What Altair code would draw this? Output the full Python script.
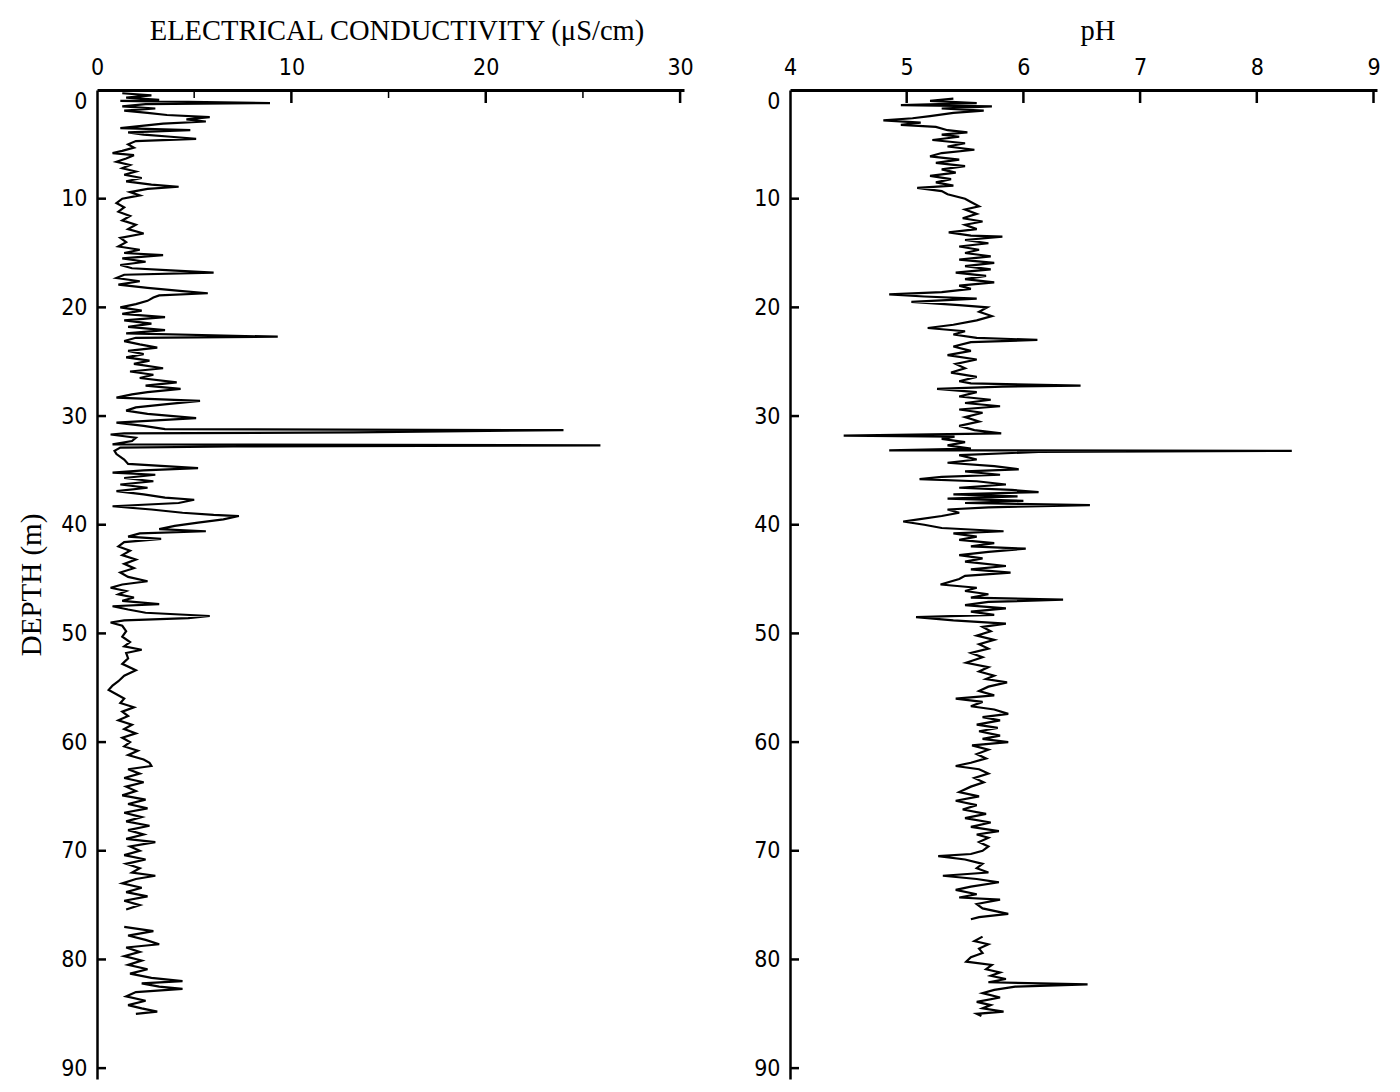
import altair as alt
import pandas as pd

# ---------------- data ----------------
# Electrical conductivity profile (depth in m, value in uS/cm); None marks a gap in the record
ec_depth = [0.3, 0.5, 0.7, 0.9, 1.0, 1.2, 1.3, 1.5, 1.7, 1.9, 2.1, 2.3, 2.5, 2.7, 2.9, 3.1, 3.3, 3.5, 3.7, 3.9,
            4.1, 4.3, 4.5, 4.7, 5.0, 5.3, 5.6, 5.8, 6.0, 6.3, 6.6, 6.9, 7.2, 7.5, 7.8, 8.1, 8.4, 8.7, 8.9, 9.1,
            9.4, 9.7, 10.0, 10.4, 10.8, 11.2, 11.6, 12.0, 12.4, 12.8, 13.2, 13.6, 14.0, 14.4, 14.7, 15.0, 15.2, 15.5, 15.8, 16.1,
            16.4, 16.6, 16.8, 17.0, 17.3, 17.6, 17.9, 18.2, 18.5, 18.7, 18.9, 19.1, 19.4, 19.7, 20.0, 20.3, 20.6, 20.9, 21.2, 21.5,
            21.8, 22.1, 22.4, 22.7, 22.8, 23.1, 23.4, 23.7, 24.0, 24.3, 24.6, 24.9, 25.2, 25.6, 25.9, 26.2, 26.5, 26.9, 27.2, 27.5,
            27.8, 28.0, 28.3, 28.6, 28.9, 29.2, 29.5, 29.8, 30.2, 30.6, 30.9, 31.2, 31.3, 31.5, 31.6, 31.7, 32.0, 32.3, 32.6, 32.7,
            32.8, 32.9, 33.2, 33.5, 34.0, 34.4, 34.8, 35.0, 35.2, 35.4, 35.7, 36.0, 36.3, 36.6, 36.9, 37.2, 37.5, 37.7, 38.0, 38.3,
            38.6, 38.9, 39.1, 39.2, 39.5, 39.8, 40.1, 40.4, 40.6, 40.8, 41.1, 41.3, 41.6, 42.0, 42.4, 42.8, 43.2, 43.6, 44.0, 44.4,
            44.8, 45.2, 45.5, 45.8, 46.1, 46.4, 46.7, 47.0, 47.3, 47.5, 47.8, 48.1, 48.4, 48.6, 48.8, 49.0, 49.3, 49.8, 50.3, 50.8,
            51.2, 51.5, 51.8, 52.3, 52.8, 53.4, 53.9, 54.4, 54.8, 55.2, 55.6, 56.0, 56.4, 56.8, 57.2, 57.6, 58.0, 58.4, 58.8, 59.2,
            59.6, 60.0, 60.4, 60.8, 61.2, 61.6, 61.9, 62.2, 62.5, 62.9, 63.3, 63.7, 64.1, 64.5, 64.9, 65.3, 65.7, 66.1, 66.5, 66.9,
            67.3, 67.7, 68.1, 68.5, 68.9, 69.2, 69.6, 70.0, 70.4, 70.8, 71.2, 71.6, 72.0, 72.3, 72.6, 73.0, 73.4, 73.8, 74.2, 74.6,
            75.0, 75.4, 76.0, 77.0, 77.4, 77.8, 78.2, 78.6, 78.9, 79.3, 79.7, 80.1, 80.5, 80.9, 81.3, 81.7, 82.0, 82.2, 82.5, 82.7,
            83.0, 83.4, 83.8, 84.2, 84.5, 84.8, 85.0]
ec_value = [1.3, 2.8, 1.5, 3.2, 1.2, 8.9, 2.5, 1.3, 3.0, 1.4, 2.6, 3.6, 5.8, 4.6, 5.6, 3.4, 2.3, 1.2, 4.8, 1.6,
            2.4, 3.8, 5.1, 2.0, 1.6, 1.9, 1.3, 0.8, 1.9, 1.5, 1.0, 1.7, 1.3, 2.0, 1.4, 2.3, 1.5, 2.8, 4.2, 2.6,
            1.7, 2.2, 1.3, 1.0, 1.4, 1.1, 1.7, 1.3, 2.0, 1.6, 2.4, 1.2, 1.5, 1.1, 2.2, 1.4, 3.4, 1.3, 2.5, 1.2,
            1.8, 3.8, 6.0, 1.4, 1.0, 2.2, 1.1, 2.6, 4.4, 5.7, 3.2, 2.9, 2.6, 2.0, 1.2, 2.3, 1.3, 3.5, 1.4, 2.8,
            1.6, 3.5, 1.5, 9.3, 2.0, 1.4, 2.2, 3.1, 1.6, 2.4, 1.5, 2.7, 1.9, 3.4, 1.7, 2.9, 2.2, 4.1, 2.5, 4.3,
            2.6, 1.8, 1.0, 5.3, 3.6, 2.0, 1.5, 2.6, 5.1, 1.0, 2.4, 3.5, 24.0, 13.2, 1.4, 0.7, 2.0, 1.8, 0.8, 25.9,
            7.0, 1.2, 0.9, 1.0, 1.4, 1.6, 5.2, 2.4, 0.8, 3.0, 1.4, 2.9, 1.2, 2.6, 1.0, 2.4, 3.5, 5.0, 4.2, 0.8,
            2.8, 4.4, 6.0, 7.3, 6.5, 5.2, 4.0, 3.2, 5.6, 2.2, 1.6, 3.3, 1.4, 1.1, 1.7, 1.3, 2.0, 1.4, 1.9, 1.2,
            1.6, 2.6, 1.3, 0.7, 1.5, 1.1, 1.9, 1.3, 3.2, 0.8, 1.6, 2.5, 5.8, 4.7, 1.4, 0.7, 1.3, 1.5, 1.3, 1.7,
            1.4, 2.3, 1.5, 1.6, 1.3, 2.0, 1.4, 1.1, 0.8, 0.6, 1.0, 1.4, 1.2, 1.9, 1.3, 1.6, 1.1, 1.8, 1.4, 2.0,
            1.3, 1.7, 1.4, 2.1, 1.6, 2.4, 2.7, 2.8, 1.6, 2.2, 1.4, 2.4, 1.5, 2.0, 1.3, 2.5, 1.6, 2.6, 1.4, 2.3,
            1.5, 2.7, 1.6, 2.4, 1.5, 3.0, 1.7, 2.2, 1.4, 2.5, 1.5, 2.2, 1.8, 3.0, 2.0, 1.3, 2.3, 1.5, 2.6, 1.4,
            2.2, 1.5, None, 1.4, 2.9, 1.6, 2.5, 3.2, 1.5, 2.2, 1.4, 2.3, 1.6, 2.6, 1.7, 2.8, 4.4, 2.3, 3.2, 4.4,
            2.0, 1.5, 2.5, 1.6, 2.3, 3.1, 2.0]

# pH profile (depth in m, pH); None marks a gap in the record
ph_depth = [0.8, 1.0, 1.2, 1.4, 1.5, 1.7, 1.9, 2.1, 2.4, 2.6, 2.8, 3.0, 3.2, 3.4, 3.7, 3.9, 4.1, 4.3, 4.6, 4.9,
            5.2, 5.5, 5.8, 6.1, 6.4, 6.7, 7.0, 7.3, 7.6, 7.9, 8.2, 8.5, 8.8, 9.0, 9.3, 9.6, 10.0, 10.3, 10.7, 11.0,
            11.4, 11.8, 12.1, 12.4, 12.8, 13.1, 13.4, 13.5, 13.8, 14.1, 14.4, 14.7, 15.0, 15.3, 15.6, 15.9, 16.2, 16.5, 16.8, 17.1,
            17.4, 17.7, 18.0, 18.3, 18.6, 18.8, 19.0, 19.2, 19.5, 19.8, 20.0, 20.4, 20.8, 21.2, 21.6, 21.9, 22.2, 22.5, 22.8, 23.0,
            23.2, 23.6, 24.0, 24.4, 24.8, 25.2, 25.6, 26.0, 26.4, 26.8, 27.0, 27.2, 27.3, 27.5, 27.8, 28.2, 28.5, 28.8, 29.1, 29.4,
            29.7, 30.1, 30.5, 30.9, 31.3, 31.6, 31.8, 31.9, 32.1, 32.4, 32.7, 33.0, 33.15, 33.2, 33.3, 33.6, 34.0, 34.3, 34.6, 34.9,
            35.1, 35.4, 35.6, 35.8, 36.0, 36.3, 36.6, 36.8, 37.0, 37.2, 37.4, 37.6, 37.8, 38.0, 38.2, 38.4, 38.6, 38.9, 39.2, 39.5,
            39.7, 40.0, 40.3, 40.6, 40.8, 41.1, 41.4, 41.7, 42.0, 42.2, 42.5, 42.8, 43.1, 43.4, 43.8, 44.1, 44.4, 44.7, 45.0, 45.5,
            45.8, 46.1, 46.4, 46.7, 46.9, 47.1, 47.4, 47.7, 48.0, 48.3, 48.5, 48.8, 49.1, 49.4, 49.8, 50.2, 50.6, 51.0, 51.4, 51.8,
            52.2, 52.7, 53.1, 53.5, 53.9, 54.2, 54.5, 54.9, 55.3, 55.7, 56.0, 56.3, 56.7, 57.0, 57.4, 57.7, 58.0, 58.4, 58.7, 59.0,
            59.4, 59.7, 60.0, 60.3, 60.7, 61.1, 61.5, 61.9, 62.2, 62.5, 62.9, 63.3, 63.7, 64.1, 64.6, 65.0, 65.4, 65.8, 66.2, 66.6,
            67.0, 67.4, 67.8, 68.2, 68.5, 68.8, 69.2, 69.6, 70.0, 70.3, 70.5, 70.8, 71.2, 71.6, 72.0, 72.3, 72.6, 72.9, 73.3, 73.6,
            74.0, 74.3, 74.5, 74.9, 75.3, 75.8, 76.1, 76.3, 77.0, 77.9, 78.3, 78.6, 79.0, 79.4, 79.8, 80.2, 80.5, 80.9, 81.2, 81.5,
            81.8, 82.1, 82.3, 82.5, 82.8, 83.1, 83.5, 83.9, 84.2, 84.5, 84.8, 85.0, 85.2]
ph_value = [5.40, 5.20, 5.60, 4.95, 5.73, 5.30, 5.66, 5.40, 5.20, 5.05, 4.80, 5.12, 4.95, 5.25, 5.35, 5.52, 5.30, 5.45, 5.22, 5.50,
            5.35, 5.58, 5.30, 5.20, 5.45, 5.25, 5.50, 5.30, 5.42, 5.20, 5.38, 5.25, 5.40, 5.09, 5.30, 5.35, 5.50, 5.55, 5.62, 5.50,
            5.60, 5.48, 5.65, 5.50, 5.60, 5.36, 5.55, 5.82, 5.50, 5.70, 5.45, 5.62, 5.50, 5.72, 5.45, 5.75, 5.50, 5.72, 5.42, 5.68,
            5.50, 5.75, 5.45, 5.55, 5.30, 4.85, 5.15, 5.60, 5.04, 5.45, 5.69, 5.62, 5.73, 5.60, 5.40, 5.18, 5.50, 5.40, 5.60, 6.12,
            5.55, 5.40, 5.55, 5.35, 5.60, 5.42, 5.50, 5.38, 5.60, 5.45, 5.55, 6.49, 5.82, 5.26, 5.60, 5.45, 5.72, 5.50, 5.80, 5.45,
            5.65, 5.50, 5.62, 5.45, 5.58, 5.81, 4.46, 5.41, 5.30, 5.50, 5.35, 5.55, 4.85, 8.30, 6.13, 5.45, 5.60, 5.35, 5.75, 5.96,
            5.50, 5.80, 5.30, 5.11, 5.60, 5.85, 5.45, 5.90, 6.13, 5.40, 5.95, 5.35, 6.00, 5.50, 6.57, 5.70, 5.35, 5.45, 5.30, 5.10,
            4.97, 5.15, 5.30, 5.83, 5.40, 5.60, 5.45, 5.75, 5.55, 6.02, 5.70, 5.45, 5.65, 5.50, 5.85, 5.55, 5.89, 5.50, 5.45, 5.29,
            5.60, 5.50, 5.70, 5.55, 6.34, 5.70, 5.50, 5.85, 5.55, 5.75, 5.08, 5.40, 5.85, 5.65, 5.72, 5.60, 5.75, 5.62, 5.70, 5.55,
            5.65, 5.51, 5.70, 5.62, 5.75, 5.68, 5.86, 5.70, 5.62, 5.75, 5.42, 5.65, 5.55, 5.75, 5.87, 5.65, 5.80, 5.60, 5.78, 5.62,
            5.80, 5.65, 5.87, 5.56, 5.70, 5.60, 5.68, 5.55, 5.42, 5.62, 5.70, 5.58, 5.66, 5.55, 5.45, 5.62, 5.42, 5.60, 5.48, 5.68,
            5.50, 5.72, 5.55, 5.79, 5.60, 5.70, 5.62, 5.70, 5.65, 5.55, 5.27, 5.50, 5.65, 5.60, 5.70, 5.31, 5.60, 5.79, 5.55, 5.42,
            5.60, 5.45, 5.80, 5.60, 5.65, 5.87, 5.62, 5.55, None, 5.65, 5.58, 5.70, 5.62, 5.65, 5.55, 5.51, 5.73, 5.68, 5.80, 5.72,
            5.85, 5.70, 6.55, 5.93, 5.75, 5.65, 5.80, 5.60, 5.72, 5.65, 5.83, 5.60, 5.64]

ec_major_ticks = [10, 20, 30]
ec_minor_ticks = [5, 15, 25]
ec_labels = [0, 10, 20, 30]
ph_ticks = [5, 6, 7, 8, 9]
ph_labels = [4, 5, 6, 7, 8, 9]
depth_ticks = [10, 20, 30, 40, 50, 60, 70, 80, 90]
depth_labels = [0, 10, 20, 30, 40, 50, 60, 70, 80, 90]

SANS = "DejaVu Sans Condensed, DejaVu Sans"
SERIF = "Liberation Serif"


def profile(depths, values):
    rows, seg = [], 0
    for d, v in zip(depths, values):
        if v is None:
            seg += 1
            continue
        rows.append({"depth": d, "value": v, "seg": seg})
    return pd.DataFrame(rows)


ec_df = profile(ec_depth, ec_value)
ph_df = profile(ph_depth, ph_value)

W, H = 587, 989
y_scale = alt.Scale(domain=[0, 91], reverse=True, nice=False, zero=False)
zero_baseline = {"condition": {"test": "datum.value == 0", "value": "top"}, "value": "middle"}


def panel(df, xdomain, xlabels, xtitle, title_x, major, minor, ytitle):
    x_scale = alt.Scale(domain=xdomain, nice=False, zero=False)
    y_axis_kwargs = dict(values=depth_labels, ticks=False, grid=False, domainColor="black",
                         domainWidth=2.5, labelFont=SANS, labelFontSize=23, labelColor="black",
                         labelPadding=10, labelBaseline=zero_baseline)
    if ytitle:
        y_axis_kwargs.update(title=ytitle, titleFont=SERIF, titleFontSize=29,
                             titleFontWeight="normal", titleColor="black", titlePadding=14)
    else:
        y_axis_kwargs.update(title=None)
    x_axis = alt.Axis(orient="top", values=xlabels, format="d", ticks=False, grid=False,
                      domainColor="black", domainWidth=3, labelFont=SANS,
                      labelFontSize=23, labelColor="black", labelPadding=11,
                      labelFlush=False, title=xtitle, titleFont=SERIF,
                      titleFontSize=28.5, titleFontWeight="normal",
                      titleColor="black", titlePadding=11, titleX=title_x)
    line = alt.Chart(df).mark_line(color="black", strokeWidth=2.2).encode(
        x=alt.X("value:Q", scale=x_scale, axis=x_axis),
        y=alt.Y("depth:Q", scale=y_scale, axis=alt.Axis(**y_axis_kwargs)),
        detail="seg:N",
        order=alt.Order("depth:Q"),
    )
    layers = [line]
    # inward-pointing ticks drawn on the shared scales
    layers.append(alt.Chart(pd.DataFrame({"value": major})).mark_rule(color="black", strokeWidth=2.5).encode(
        x="value:Q", y=alt.value(0), y2=alt.value(13)))
    if minor:
        layers.append(alt.Chart(pd.DataFrame({"value": minor})).mark_rule(color="black", strokeWidth=1.5).encode(
            x="value:Q", y=alt.value(0), y2=alt.value(8)))
    layers.append(alt.Chart(pd.DataFrame({"depth": depth_ticks})).mark_rule(color="black", strokeWidth=2.5).encode(
        y="depth:Q", x=alt.value(0), x2=alt.value(9)))
    return alt.layer(*layers).properties(width=W, height=H)


left = panel(ec_df, [0, 30.2], ec_labels, "ELECTRICAL CONDUCTIVITY (\u03bcS/cm)", W / 2 + 6,
             ec_major_ticks, ec_minor_ticks, "DEPTH (m)")
right = panel(ph_df, [4, 9.03], ph_labels, "pH", W / 2 + 14, ph_ticks, [], None)

chart = alt.hconcat(left, right, spacing=59).properties(
    padding={"left": 9, "top": 8, "right": 5, "bottom": 5},
    background="white",
).configure_view(stroke=None)

chart.save("out.html", embed_options={"renderer": "svg", "actions": False})
